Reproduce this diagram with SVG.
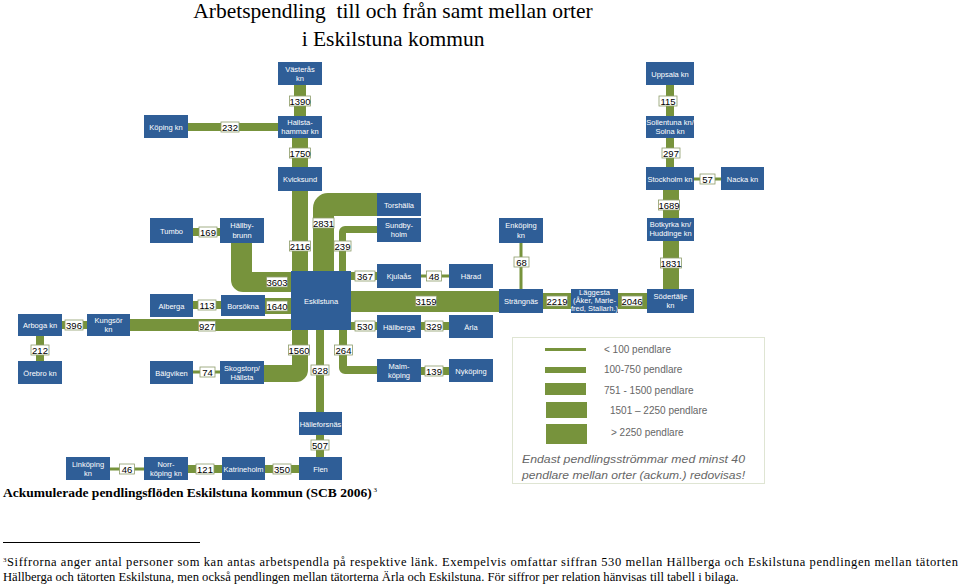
<svg xmlns="http://www.w3.org/2000/svg" width="960" height="585" viewBox="0 0 960 585">
<defs>
<style>
.n rect{fill:#2F5E97}
.n text{fill:#fff;font-family:"Liberation Sans",Arial,sans-serif;font-size:7.5px;text-anchor:middle}
#connectors rect,#connectors path{fill:#77933C}
.lb rect{fill:#fff;stroke:#8d9c6a;stroke-width:0.8}
.lb text{fill:#000;font-family:"Liberation Sans",Arial,sans-serif;font-size:9.5px;text-anchor:middle}
.lg{fill:#666;font-family:"Liberation Sans",Arial,sans-serif;font-size:10px}
.serif{font-family:"Liberation Serif","Times New Roman",serif;fill:#000}
</style>
</defs>
<rect width="960" height="585" fill="#fff"/>
<text class="serif" x="393" y="18" font-size="21.5" text-anchor="middle" xml:space="preserve">Arbetspendling  till och från samt mellan orter</text>
<text class="serif" x="393" y="46" font-size="21.5" text-anchor="middle">i Eskilstuna kommun</text>

<g id="connectors">
<rect x="294" y="85" width="12" height="31"/>
<rect x="292" y="138" width="16" height="29"/>
<rect x="188" y="123" width="90" height="8"/>
<rect x="292" y="191" width="16" height="80"/>
<path d="M313 271 V208 A15 15 0 0 1 328 193 H377 V216 H334 V271 Z"/>
<path d="M339 271 V232 A6 6 0 0 1 345 226 H377 V233 H346 V271 Z"/>
<rect x="351" y="272" width="26" height="8"/>
<rect x="421" y="274.5" width="28" height="3"/>
<rect x="351" y="291" width="148" height="21"/>
<rect x="351" y="322" width="26" height="8"/>
<rect x="421" y="322" width="28" height="8"/>
<path d="M339 330 V368 A6 6 0 0 0 345 374 H377 V366 H347 V330 Z"/>
<rect x="421" y="367" width="28" height="8"/>
<rect x="316" y="330" width="8" height="82"/>
<rect x="316" y="435" width="8" height="22"/>
<rect x="265" y="465" width="34" height="8"/>
<rect x="188" y="465" width="34" height="8"/>
<rect x="110" y="467.5" width="34" height="3"/>
<rect x="193" y="228" width="27" height="8"/>
<path d="M231 243 V280 A12 12 0 0 0 243 292 H291 V272 H252 V243 Z"/>
<rect x="193" y="301" width="28" height="8"/>
<rect x="265" y="298" width="26" height="16"/>
<rect x="62" y="321" width="25" height="8"/>
<rect x="130" y="319" width="161" height="12"/>
<rect x="36" y="336" width="8" height="25"/>
<rect x="193" y="370.5" width="27" height="3"/>
<path d="M308 330 V370 A12 12 0 0 1 296 382 H264 V365 H292 V330 Z"/>
<rect x="519.5" y="243" width="3" height="46"/>
<rect x="543" y="293" width="28" height="16"/>
<rect x="618" y="293" width="29" height="16"/>
<rect x="663" y="241" width="16" height="48"/>
<rect x="663" y="190" width="16" height="28"/>
<rect x="694" y="177.5" width="27" height="3"/>
<rect x="666" y="138" width="8" height="29"/>
<rect x="666" y="85" width="8" height="31"/>
</g>

<g id="labels" class="lb">
<g><rect x="289.5" y="96" width="21" height="10"/><text x="300" y="104.5">1390</text></g>
<g><rect x="289.5" y="148" width="21" height="10"/><text x="300" y="156.5">1750</text></g>
<g><rect x="221" y="122" width="18" height="10"/><text x="230" y="130.5">232</text></g>
<g><rect x="289.5" y="241" width="21" height="10"/><text x="300" y="249.5">2116</text></g>
<g><rect x="313" y="218" width="21" height="10"/><text x="323.5" y="226.5">2831</text></g>
<g><rect x="334" y="241" width="17" height="10"/><text x="342.5" y="249.5">239</text></g>
<g><rect x="355" y="271" width="20" height="10"/><text x="365" y="279.5">367</text></g>
<g><rect x="426.5" y="271" width="15" height="10"/><text x="434" y="279.5">48</text></g>
<g><rect x="415.5" y="296" width="21" height="10"/><text x="426" y="304.5">3159</text></g>
<g><rect x="355" y="321" width="20" height="10"/><text x="365" y="329.5">530</text></g>
<g><rect x="425" y="321" width="18" height="10"/><text x="434" y="329.5">329</text></g>
<g><rect x="334.5" y="345" width="18" height="10"/><text x="343.5" y="353.5">264</text></g>
<g><rect x="425" y="366" width="18" height="10"/><text x="434" y="374.5">139</text></g>
<g><rect x="311" y="365" width="18" height="10"/><text x="320" y="373.5">628</text></g>
<g><rect x="311" y="440" width="18" height="10"/><text x="320" y="448.5">507</text></g>
<g><rect x="273" y="464" width="18" height="10"/><text x="282" y="472.5">350</text></g>
<g><rect x="196" y="464" width="18" height="10"/><text x="205" y="472.5">121</text></g>
<g><rect x="119.5" y="464" width="15" height="10"/><text x="127" y="472.5">46</text></g>
<g><rect x="199" y="227" width="18" height="10"/><text x="208" y="235.5">169</text></g>
<g><rect x="266.5" y="277" width="21" height="10"/><text x="277" y="285.5">3603</text></g>
<g><rect x="198" y="300" width="18" height="10"/><text x="207" y="308.5">113</text></g>
<g><rect x="266.5" y="301" width="21" height="10"/><text x="277" y="309.5">1640</text></g>
<g><rect x="65" y="320" width="18" height="10"/><text x="74" y="328.5">396</text></g>
<g><rect x="198.5" y="321" width="17" height="10"/><text x="207" y="329.5">927</text></g>
<g><rect x="31" y="345" width="18" height="10"/><text x="40" y="353.5">212</text></g>
<g><rect x="200" y="367" width="15" height="10"/><text x="207.5" y="375.5">74</text></g>
<g><rect x="288.5" y="345" width="21" height="10"/><text x="299" y="353.5">1560</text></g>
<g><rect x="514" y="257" width="15" height="10"/><text x="521.5" y="265.5">68</text></g>
<g><rect x="546.5" y="296" width="21" height="10"/><text x="557" y="304.5">2219</text></g>
<g><rect x="621.5" y="296" width="21" height="10"/><text x="632" y="304.5">2046</text></g>
<g><rect x="660.5" y="258" width="21" height="10"/><text x="671" y="266.5">1831</text></g>
<g><rect x="658.5" y="200" width="21" height="10"/><text x="669" y="208.5">1689</text></g>
<g><rect x="700" y="174" width="15" height="10"/><text x="707.5" y="182.5">57</text></g>
<g><rect x="662" y="148" width="18" height="10"/><text x="671" y="156.5">297</text></g>
<g><rect x="659" y="96" width="18" height="10"/><text x="668" y="104.5">115</text></g>
</g>

<g id="vasteras" class="n"><rect x="278" y="62" width="44" height="23"/><text x="300" y="72">Västerås</text><text x="300" y="81">kn</text></g>
<g id="hallstahammar" class="n"><rect x="278" y="116" width="44" height="22"/><text x="300" y="125">Hallsta-</text><text x="300" y="134">hammar kn</text></g>
<g id="kvicksund" class="n"><rect x="278" y="167" width="44" height="24"/><text x="300" y="182">Kvicksund</text></g>
<g id="koping" class="n"><rect x="144" y="115" width="44" height="23"/><text x="166" y="129.5">Köping kn</text></g>
<g id="eskilstuna" class="n"><rect x="291" y="271" width="60" height="59"/><text x="321" y="303.5" font-size="8">Eskilstuna</text></g>
<g id="torshalla" class="n"><rect x="377" y="193" width="44" height="23"/><text x="399" y="207.5">Torshälla</text></g>
<g id="sundbyholm" class="n"><rect x="377" y="218" width="44" height="24"/><text x="399" y="228">Sundby-</text><text x="399" y="237">holm</text></g>
<g id="kjulaas" class="n"><rect x="377" y="264" width="44" height="24"/><text x="399" y="279">Kjulaås</text></g>
<g id="harad" class="n"><rect x="449" y="264" width="44" height="24"/><text x="471" y="279">Härad</text></g>
<g id="hallberga" class="n"><rect x="377" y="315" width="44" height="23"/><text x="399" y="329.5">Hällberga</text></g>
<g id="arla" class="n"><rect x="449" y="315" width="44" height="23"/><text x="471" y="329.5">Ärla</text></g>
<g id="malmkoping" class="n"><rect x="377" y="359" width="44" height="23"/><text x="399" y="368.5">Malm-</text><text x="399" y="377.5">köping</text></g>
<g id="nykoping" class="n"><rect x="449" y="359" width="44" height="23"/><text x="471" y="373.5">Nyköping</text></g>
<g id="halleforsnas" class="n"><rect x="299" y="412" width="43" height="23"/><text x="320.5" y="426.5">Hälleforsnäs</text></g>
<g id="flen" class="n"><rect x="299" y="457" width="43" height="23"/><text x="320.5" y="471.5">Flen</text></g>
<g id="katrineholm" class="n"><rect x="222" y="457" width="43" height="23"/><text x="243.5" y="471.5">Katrineholm</text></g>
<g id="norrkoping" class="n"><rect x="144" y="457" width="44" height="23"/><text x="166" y="466.5">Norr-</text><text x="166" y="475.5">köping kn</text></g>
<g id="linkoping" class="n"><rect x="66" y="457" width="44" height="23"/><text x="88" y="466.5">Linköping</text><text x="88" y="475.5">kn</text></g>
<g id="tumbo" class="n"><rect x="150" y="218" width="43" height="25"/><text x="171.5" y="233.5">Tumbo</text></g>
<g id="hallbybrunn" class="n"><rect x="220" y="218" width="44" height="25"/><text x="242" y="228">Hällby-</text><text x="242" y="238">brunn</text></g>
<g id="alberga" class="n"><rect x="150" y="294" width="43" height="23"/><text x="171.5" y="308.5">Alberga</text></g>
<g id="borsokna" class="n"><rect x="221" y="295" width="44" height="21"/><text x="243" y="308.5">Borsökna</text></g>
<g id="arboga" class="n"><rect x="18" y="314" width="44" height="22"/><text x="40" y="328">Arboga kn</text></g>
<g id="kungsor" class="n"><rect x="87" y="314" width="43" height="22"/><text x="108.5" y="323">Kungsör</text><text x="108.5" y="332">kn</text></g>
<g id="orebro" class="n"><rect x="18" y="361" width="44" height="23"/><text x="40" y="375.5">Örebro kn</text></g>
<g id="balgviken" class="n"><rect x="150" y="361" width="43" height="23"/><text x="171.5" y="375.5">Bälgviken</text></g>
<g id="skogstorp" class="n"><rect x="220" y="361" width="44" height="23"/><text x="242" y="370.5">Skogstorp/</text><text x="242" y="379.5">Hällsta</text></g>
<g id="enkoping" class="n"><rect x="499" y="218" width="44" height="25"/><text x="521" y="228">Enköping</text><text x="521" y="238">kn</text></g>
<g id="strangnas" class="n"><rect x="499" y="289" width="44" height="24"/><text x="521" y="304">Strängnäs</text></g>
<g id="laggesta" class="n"><rect x="571" y="289" width="47" height="24"/><text x="594.5" y="295" font-size="6">Läggesta</text><text x="594.5" y="303" font-size="4.5">(Åker, Marie-</text><text x="594.5" y="310.5" font-size="4.5">fred, Stallarh.)</text></g>
<g id="sodertalje" class="n"><rect x="647" y="289" width="47" height="24"/><text x="670.5" y="299">Södertälje</text><text x="670.5" y="308">kn</text></g>
<g id="botkyrka" class="n"><rect x="647" y="218" width="47" height="23"/><text x="670.5" y="227" font-size="6.5">Botkyrka kn/</text><text x="670.5" y="236" font-size="6.5">Huddinge kn</text></g>
<g id="stockholm" class="n"><rect x="646" y="167" width="48" height="23"/><text x="670" y="181.5">Stockholm kn</text></g>
<g id="nacka" class="n"><rect x="721" y="167" width="43" height="23"/><text x="742.5" y="181.5">Nacka kn</text></g>
<g id="sollentuna" class="n"><rect x="646" y="116" width="48" height="22"/><text x="670" y="125" font-size="6.5">Sollentuna kn/</text><text x="670" y="134" font-size="6.5">Solna kn</text></g>
<g id="uppsala" class="n"><rect x="646" y="62" width="48" height="23"/><text x="670" y="76.5">Uppsala kn</text></g>

<g id="legend">
<rect x="512.5" y="337.5" width="252" height="146" fill="#fff" stroke="#dfe5d3" stroke-width="1"/>
<rect x="545" y="348" width="41" height="3" fill="#77933C"/>
<rect x="545" y="367" width="41" height="6" fill="#77933C"/>
<rect x="545" y="383" width="41" height="12" fill="#77933C"/>
<rect x="546" y="402" width="41" height="16" fill="#77933C"/>
<rect x="546" y="424" width="41" height="20" fill="#77933C"/>
<text class="lg" x="604" y="353">&lt; 100 pendlare</text>
<text class="lg" x="604" y="373">100-750 pendlare</text>
<text class="lg" x="604" y="394">751 - 1500 pendlare</text>
<text class="lg" x="610" y="414">1501 – 2250 pendlare</text>
<text class="lg" x="611" y="436">&gt; 2250 pendlare</text>
<text class="lg" x="522" y="463" font-size="14" font-style="italic" fill="#7a7a7a" textLength="223" lengthAdjust="spacingAndGlyphs">Endast pendlingsströmmar med minst 40</text>
<text class="lg" x="522" y="479" font-size="14" font-style="italic" fill="#7a7a7a" textLength="223" lengthAdjust="spacingAndGlyphs">pendlare mellan orter (ackum.) redovisas!</text>
</g>

<text class="serif" x="3" y="497" font-size="13.5" font-weight="bold">Ackumulerade pendlingsflöden Eskilstuna kommun (SCB 2006)<tspan font-size="7" font-weight="normal" dy="-5"> 3</tspan></text>
<line x1="3" y1="542.5" x2="200" y2="542.5" stroke="#000" stroke-width="1"/>
<text class="serif" x="3" y="566" font-size="12.5" textLength="955" lengthAdjust="spacing"><tspan font-size="7" dy="-4">3</tspan><tspan dy="4">Siffrorna anger antal personer som kan antas arbetspendla på respektive länk. Exempelvis omfattar siffran 530 mellan Hällberga och Eskilstuna pendlingen mellan tätorten</tspan></text>
<text class="serif" x="3" y="581" font-size="12.6">Hällberga och tätorten Eskilstuna, men också pendlingen mellan tätorterna Ärla och Eskilstuna. För siffror per relation hänvisas till tabell i bilaga.</text>
</svg>
